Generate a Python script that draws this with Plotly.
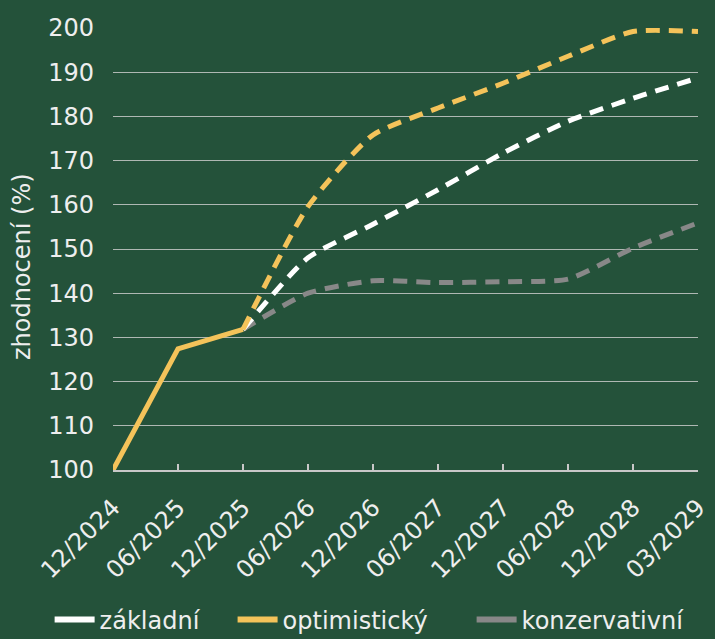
import plotly.graph_objects as go

categories = ["12/2024", "06/2025", "12/2025", "06/2026", "12/2026",
              "06/2027", "12/2027", "06/2028", "12/2028", "03/2029"]

history = [100, 127.4, 131.8]
zakladni = [None, None, 131.8, 148.0, 155.6, 163.4, 171.7, 178.9, 184.1, 188.7]
optimisticky = [None, None, 131.8, 159.6, 175.8, 181.9, 187.5, 193.6, 199.2, 199.2]
konzervativni = [None, None, 131.8, 140.0, 142.8, 142.4, 142.6, 143.2, 150.2, 155.9]

y_ticks = [100, 110, 120, 130, 140, 150, 160, 170, 180, 190, 200]
legend_names = ["základní", "optimistický", "konzervativní"]

WHITE = "#ffffff"
ORANGE = "#f4c35a"
GRAY = "#888888"
BG = "#24523a"
TXT = "#eeeeee"
FONT = "DejaVu Sans"

fig = go.Figure()

dash = "14px,9px"
for vals, col in [(konzervativni, GRAY), (zakladni, WHITE), (optimisticky, ORANGE)]:
    fig.add_trace(go.Scatter(
        x=categories, y=vals, mode="lines", showlegend=False,
        line=dict(color=col, width=5, dash=dash, shape="spline", smoothing=0.6),
        cliponaxis=False, hoverinfo="skip"))

fig.add_trace(go.Scatter(
    x=categories[:3], y=history, mode="lines", showlegend=False,
    line=dict(color=ORANGE, width=5), cliponaxis=False, hoverinfo="skip"))

legend_keys = ["legend", "legend2", "legend3"]
legend_x = [0.0694, 0.3253, 0.6596]
for name, col, lk in zip(legend_names, [WHITE, ORANGE, GRAY], legend_keys):
    fig.add_trace(go.Scatter(x=[None], y=[None], mode="lines", name=name,
                             legend=lk, line=dict(color=col, width=6)))

leg_common = dict(orientation="h", xref="container", yref="container",
                  xanchor="left", y=1 - 620 / 639, yanchor="middle",
                  font=dict(size=24, color=TXT, family=FONT), itemwidth=40,
                  bgcolor="rgba(0,0,0,0)")
layout_legends = {lk: dict(x=lx, **leg_common) for lk, lx in zip(legend_keys, legend_x)}

fig.update_layout(
    width=715, height=639,
    margin=dict(l=113, r=17, t=28, b=169, autoexpand=False),
    paper_bgcolor=BG, plot_bgcolor=BG,
    font=dict(family=FONT, color=TXT, size=24),
    xaxis=dict(type="category", categoryorder="array", categoryarray=categories,
               showgrid=False, showline=True, linecolor="#c8c8c8", linewidth=2,
               ticks="inside", ticklen=6, tickcolor="#c8c8c8", tickwidth=2,
               tickangle=-45, tickfont=dict(size=24, color=TXT),
               ticklabelstandoff=12, ticklabelshift=0,
               range=[0, len(categories) - 1], zeroline=False, fixedrange=True),
    yaxis=dict(range=[100, 200], tickvals=y_ticks, showgrid=True,
               gridcolor="rgba(210,210,210,0.8)", gridwidth=1, zeroline=False,
               showline=False, tickfont=dict(size=24, color=TXT),
               ticklabelstandoff=18, fixedrange=True),
    annotations=[dict(text="zhodnocení (%)", textangle=-90, xref="paper", yref="paper",
                      x=(22 - 113) / 585, y=(470 - 267) / 442, xanchor="center",
                      yanchor="middle", showarrow=False,
                      font=dict(size=24, color=TXT, family=FONT))],
    **layout_legends,
)

fig.write_html("out.html", config={"displayModeBar": False},
               post_script="document.body.style.margin='0';document.body.style.background='" + BG + "';")
